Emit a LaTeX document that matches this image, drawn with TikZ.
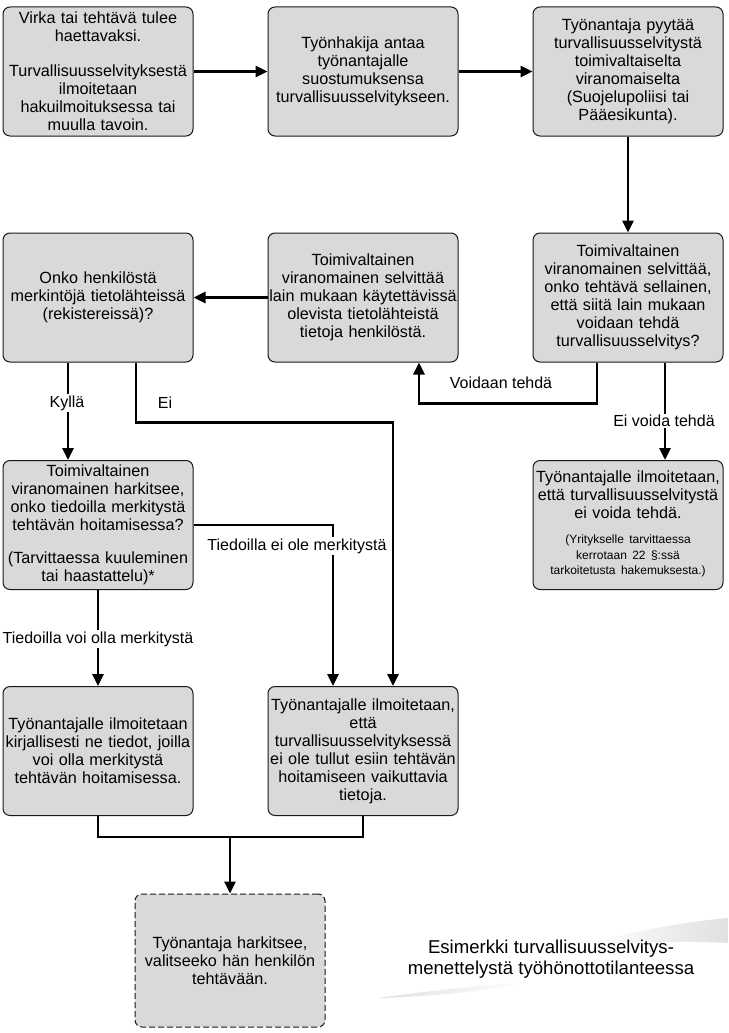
\documentclass[tikz,border=0pt]{standalone}
\usepackage{fontspec}
\setmainfont{Liberation Sans}
\usetikzlibrary{arrows.meta,calc}
\begin{document}
\begin{tikzpicture}[x=1pt,y=-1pt,
  box/.style={draw=black!90, line width=1pt, fill=black!15, rounded corners=7pt,
    minimum width=190pt, minimum height=129pt, text width=190pt, align=center,
    inner sep=0pt, font=\fontsize{16.2}{18}\selectfont},
  conn/.style={line width=2.8pt, -{Triangle[length=12pt,width=11pt]}},
  plain/.style={line width=2.8pt},
  lbl/.style={fill=white, inner sep=1.5pt, font=\fontsize{16}{18}\selectfont}]
\useasboundingbox (0,0) rectangle (728,1033);
\fill[white] (0,0) rectangle (728,1033);

% swooshes
\shade[left color=white, right color=black!12]
  (585,944) .. controls (640,930) and (690,921) .. (728,918)
  -- (728,943) .. controls (690,941) and (640,942) .. (585,944) -- cycle;
\shade[left color=black!12, right color=white]
  (378,998) .. controls (420,992) and (480,985) .. (530,982)
  .. controls (480,992) and (425,997) .. (378,998) -- cycle;

% nodes
\node[box] (A) at (98,71.5) {Virka tai tehtävä tulee\\haettavaksi.\\[17pt]Turvallisuusselvityksestä\\ilmoitetaan\\hakuilmoituksessa tai\\muulla tavoin.};
\node[box] (B) at (363,71.5) {Työnhakija antaa\\työnantajalle\\suostumuksensa\\turvallisuusselvitykseen.};
\node[box] (C) at (628,71.5) {Työnantaja pyytää\\turvallisuusselvitystä\\toimivaltaiselta\\viranomaiselta\\(Suojelupoliisi tai\\Pääesikunta).};
\node[box] (D) at (98,297.5) {Onko henkilöstä\\merkintöjä tietolähteissä\\(rekistereissä)?};
\node[box] (E) at (363,297.5) {Toimivaltainen\\viranomainen selvittää\\lain mukaan käytettävissä\\olevista tietolähteistä\\tietoja henkilöstä.};
\node[box] (F) at (628,297.5) {Toimivaltainen\\viranomainen selvittää,\\onko tehtävä sellainen,\\että siitä lain mukaan\\voidaan tehdä\\turvallisuusselvitys?};
\node[box] (G) at (98,525) {Toimivaltainen\\viranomainen harkitsee,\\onko tiedoilla merkitystä\\tehtävän hoitamisessa?\\[15pt](Tarvittaessa kuuleminen\\tai haastattelu)*};
\node[box] (H) at (628,525) {Työnantajalle ilmoitetaan,\\että turvallisuusselvitystä\\ei voida tehdä.\\[13pt]{\fontsize{12}{15.5}\selectfont\begin{tabular}{@{}c@{}}(Yritykselle tarvittaessa\\kerrotaan 22 §:ssä\\tarkoitetusta hakemuksesta.)\end{tabular}}};
\node[box] (I) at (98,751) {Työnantajalle ilmoitetaan\\kirjallisesti ne tiedot, joilla\\voi olla merkitystä\\tehtävän hoitamisessa.};
\node[box] (J) at (363,751) {Työnantajalle ilmoitetaan,\\että\\turvallisuusselvityksessä\\ei ole tullut esiin tehtävän\\hoitamiseen vaikuttavia\\tietoja.};
\node[box, dash pattern=on 6pt off 3pt, minimum height=133pt] (K) at (230,960.5) {Työnantaja harkitsee,\\valitseeko hän henkilön\\tehtävään.};

\node[font=\fontsize{18.6}{21}\selectfont, align=center] (cap) at (551,959) {Esimerkki turvallisuusselvitys-\\menettelystä työhönottotilanteessa};

% connectors
\draw[conn] (A) -- (B);
\draw[conn] (B) -- (C);
\draw[conn] (C) -- (F);
\draw[conn] (E) -- (D);
\draw[conn] ([xshift=-31pt]F.south) -- ++(0,41) -| ([xshift=56pt]E.south);
\node[lbl, fill=none] (l1) at (501,383) {Voidaan tehdä};
\draw[conn] ([xshift=37pt]F.south) -- ([xshift=37pt]H.north);
\node[lbl] (l2) at (664,421) {Ei voida tehdä};
\draw[conn] ([xshift=-30pt]D.south) -- ([xshift=-30pt]G.north);
\node[lbl] (l3) at (67,403) {Kyllä};
\draw[conn] ([xshift=38pt]D.south) -- ++(0,60) -| ([xshift=30pt]J.north);
\node[lbl, fill=none] (l4) at (165,403) {Ei};
\draw[conn] (G.east) -| ([xshift=-30pt]J.north);
\node[lbl] (l5) at (297,546) {Tiedoilla ei ole merkitystä};
\draw[conn] (G) -- (I);
\node[lbl] (l6) at (98,639) {Tiedoilla voi olla merkitystä};
\coordinate (m) at (230,837);
\draw[plain] (I.south) |- (m) -| (J.south);
\draw[conn] (m) -- (K.north);
\end{tikzpicture}
\end{document}
